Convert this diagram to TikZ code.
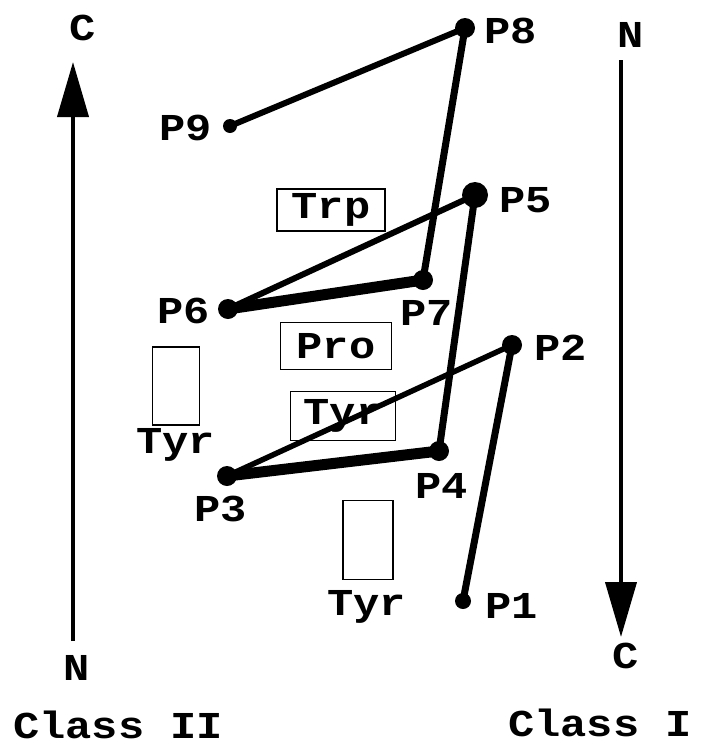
\documentclass[tikz,border=0pt]{standalone}
\usepackage{fontspec}
\setmainfont{Liberation Mono}[FakeStretch=1.15]
\usetikzlibrary{arrows.meta}
\begin{document}
\begin{tikzpicture}[x=1pt,y=-1pt,
  lbl/.style={font=\fontsize{38}{40}\selectfont\bfseries, inner sep=0pt, anchor=base west},
  dot/.style={circle, fill=black, inner sep=0pt, minimum size=#1},
  chain/.style={line width=#1, line cap=round, line join=round},
  tbox/.style={draw, line width=1.8pt, inner sep=0pt, font=\fontsize{38}{40}\selectfont\bfseries},
  erect/.style={draw, line width=1.8pt, inner sep=0pt},
  axis/.style={line width=4pt, -{Triangle[length=55pt,width=31pt]}}]
\useasboundingbox (0,0) rectangle (706,745);
% axes
\coordinate (lb) at (73,641);
\coordinate (lt) at (73,62);
\coordinate (rt) at (621,60);
\coordinate (rb) at (621,637);
\draw[axis] (lb) -- (lt);
\draw[axis] (rt) -- (rb);
\node[lbl] (cTop) at (69,40) {C};
\node[lbl] (nBot) at (63,680) {N};
\node[lbl] (nTop) at (617,47) {N};
\node[lbl] (cBot) at (612,668) {C};
\node[lbl] (cl2) at (13,738) {Class II};
\node[lbl] (cl1) at (508,736) {Class I};
% boxes
\node[tbox, minimum width=108pt, minimum height=42pt] (trp) at (331,210) {Trp};
\node[tbox, minimum width=111pt, minimum height=47pt] (pro) at (336,346) {Pro};
\node[tbox, minimum width=105pt, minimum height=49pt] (tyrm) at (343,416) {Tyr};
\node[erect, minimum width=47pt, minimum height=78pt] (r1) at (176,386) {};
\node[erect, minimum width=50pt, minimum height=79pt] (r2) at (368,540) {};
\node[lbl] (tyr1) at (136,453) {Tyr};
\node[lbl] (tyr2) at (327,615) {Tyr};
% points
\node[dot=20pt] (p8) at (465,28) {};
\node[dot=14pt] (p9) at (230,126) {};
\node[dot=26pt] (p5) at (475,195) {};
\node[dot=20pt] (p7) at (423,280) {};
\node[dot=20pt] (p6) at (228,309) {};
\node[dot=20pt] (p2) at (512,345) {};
\node[dot=20pt] (p4) at (439,451) {};
\node[dot=20pt] (p3) at (227,476) {};
\node[dot=16pt] (p1) at (463,601) {};
\draw[chain=6pt] (p9.center) -- (p8.center);
\draw[chain=7pt] (p8.center) -- (p7.center);
\draw[chain=11pt] (p7.center) -- (p6.center);
\draw[chain=6pt] (p6.center) -- (p5.center);
\draw[chain=7pt] (p5.center) -- (p4.center);
\draw[chain=11pt] (p4.center) -- (p3.center);
\draw[chain=5.5pt] (p3.center) -- (p2.center);
\draw[chain=7pt] (p2.center) -- (p1.center);
% labels
\node[lbl] (l8) at (484,43) {P8};
\node[lbl] (l9) at (159,140) {P9};
\node[lbl] (l5) at (499,212) {P5};
\node[lbl] (l7) at (400,325) {P7};
\node[lbl] (l6) at (157,323) {P6};
\node[lbl] (l2) at (534,360) {P2};
\node[lbl] (l4) at (415,498) {P4};
\node[lbl] (l3) at (194,521) {P3};
\node[lbl] (l1) at (485,618) {P1};
\end{tikzpicture}
\end{document}
